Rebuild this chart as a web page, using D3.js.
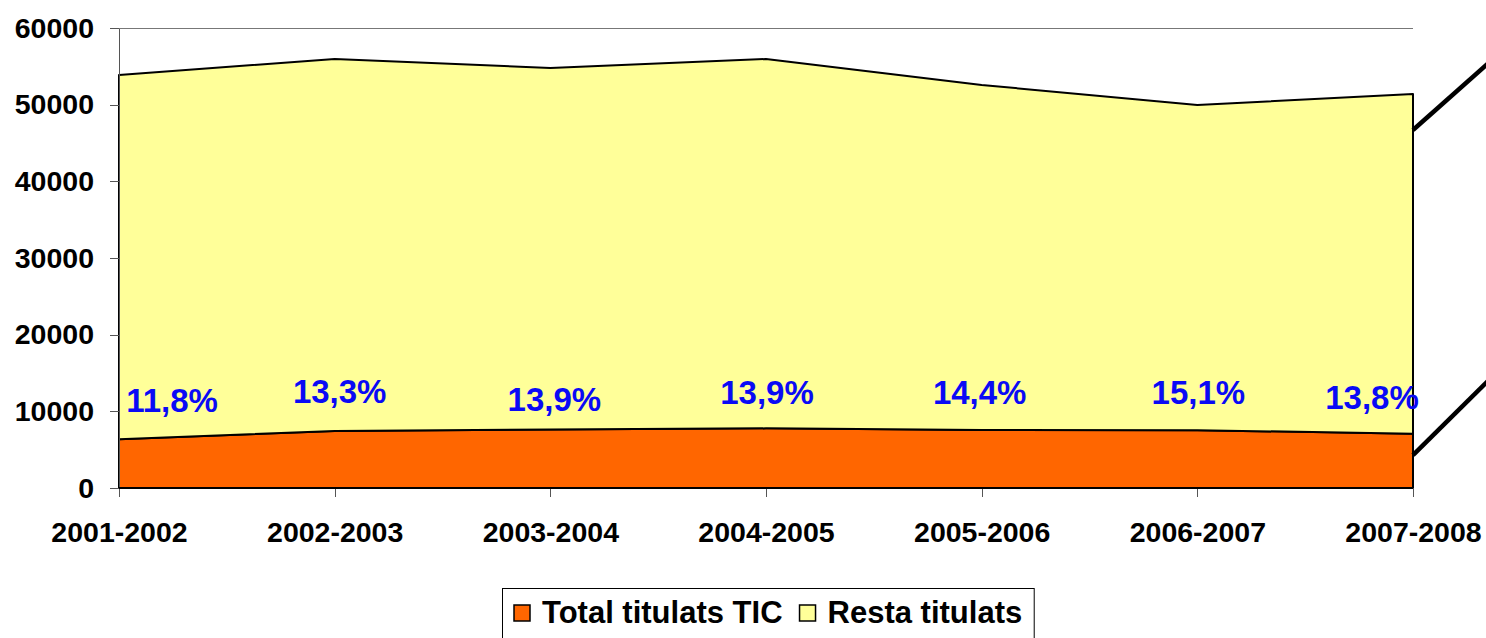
<!DOCTYPE html>
<html>
<head>
<meta charset="utf-8">
<title>Titulats TIC</title>
<style>
    body { margin: 0; background: #fff; }
    svg text { font-family: "Liberation Sans", Arial, sans-serif; font-weight: bold; }
    .axis path, .axis line { stroke: #555; shape-rendering: crispEdges; }
    .axis text { font-size: 28.5px; fill: #000; }
</style>
</head>
<body>
<script src="https://cdnjs.cloudflare.com/ajax/libs/d3/7.8.5/d3.min.js"></script>
<script>
    // Data
    const categories = ["2001-2002", "2002-2003", "2003-2004", "2004-2005", "2005-2006", "2006-2007", "2007-2008"];
    const ticValues = [6360, 7440, 7620, 7780, 7570, 7540, 7090];
    const restaValues = [47510, 48520, 47160, 48180, 45000, 42420, 44300];
    const pctLabels = ["11,8%", "13,3%", "13,9%", "13,9%", "14,4%", "15,1%", "13,8%"];
    const yTicks = [0, 10000, 20000, 30000, 40000, 50000, 60000];
    const seriesNames = ["Total titulats TIC", "Resta titulats"];

    // Hand placed label offsets (px) relative to each category
    const labelDx = [53, 5, 4, 1, -2, 1, -41];
    const labelY = [412, 403, 411, 404, 404, 404, 409];

    const width = 1486, height = 638;
    const colors = ["#ff6600", "#ffff99"];

    const svg = d3.select("body").append("svg")
        .attr("width", width)
        .attr("height", height);

    const x = d3.scalePoint().domain(categories).range([119, 1413]);
    const y = d3.scaleLinear().domain([0, 60000]).range([488, 28]);

    const rows = categories.map((c, i) => ({cat: c, tic: ticValues[i], resta: restaValues[i]}));
    const stack = d3.stack().keys(["tic", "resta"]);
    const series = stack(rows);

    const area = d3.area()
        .x(d => x(d.data.cat))
        .y0(d => y(d[0]))
        .y1(d => y(d[1]));

    // top border line of the plot area
    svg.append("line")
        .attr("x1", x.range()[0]).attr("x2", x.range()[1])
        .attr("y1", y(60000)).attr("y2", y(60000))
        .attr("stroke", "#777").attr("stroke-width", 1)
        .attr("shape-rendering", "crispEdges");

    svg.selectAll("path.area")
        .data(series)
        .join("path")
        .attr("class", "area")
        .attr("d", area)
        .attr("fill", (d, i) => colors[i])
        .attr("stroke", "#000")
        .attr("stroke-width", 2)
        .attr("stroke-linejoin", "round");

    // Axes
    svg.append("g")
        .attr("class", "axis")
        .attr("transform", `translate(${x.range()[0]},0)`)
        .call(d3.axisLeft(y).tickValues(yTicks).tickSize(9).tickSizeOuter(0).tickPadding(16).tickFormat(d3.format("d")));

    const xAxis = svg.append("g")
        .attr("class", "axis")
        .attr("transform", `translate(0,${y(0)})`)
        .call(d3.axisBottom(x).tickSize(9).tickSizeOuter(0).tickPadding(25));
    xAxis.select(".domain").remove();

    // bottom edge over the axis
    svg.append("line")
        .attr("x1", x.range()[0]).attr("x2", x.range()[1])
        .attr("y1", y(0)).attr("y2", y(0))
        .attr("stroke", "#000").attr("stroke-width", 2);

    // percentage labels
    svg.selectAll("text.pct")
        .data(pctLabels)
        .join("text")
        .attr("class", "pct")
        .attr("x", (d, i) => x(categories[i]) + labelDx[i])
        .attr("y", (d, i) => labelY[i])
        .attr("text-anchor", "middle")
        .attr("font-size", "33px")
        .attr("fill", "#0a0af5")
        .text(d => d);

    // the two diagonal strokes leaving the right edge
    const last = categories[categories.length - 1];
    [[46700, -71], [4300, -79]].forEach(([v, rise]) => {
        svg.append("line")
            .attr("x1", x(last)).attr("y1", y(v))
            .attr("x2", x(last) + 80).attr("y2", y(v) + rise)
            .attr("stroke", "#000")
            .attr("stroke-width", 4.5);
    });

    // Legend
    const legend = svg.append("g");
    const box = legend.append("rect")
        .attr("x", 502.5).attr("y", 588.5)
        .attr("height", 70)
        .attr("fill", "#fff")
        .attr("stroke", "#000")
        .attr("stroke-width", 1);

    let cx = 514;
    seriesNames.forEach((name, i) => {
        legend.append("rect")
            .attr("x", cx).attr("y", 605)
            .attr("width", 16).attr("height", 16)
            .attr("fill", colors[i])
            .attr("stroke", "#000")
            .attr("stroke-width", 1.5);
        const t = legend.append("text")
            .attr("x", cx + 28).attr("y", 623)
            .attr("font-size", "31px")
            .attr("fill", "#000")
            .text(name);
        cx = cx + 28 + t.node().getComputedTextLength() + 17;
    });
    box.attr("width", cx - 17 + 12 - 502.5);
</script>
</body>
</html>
